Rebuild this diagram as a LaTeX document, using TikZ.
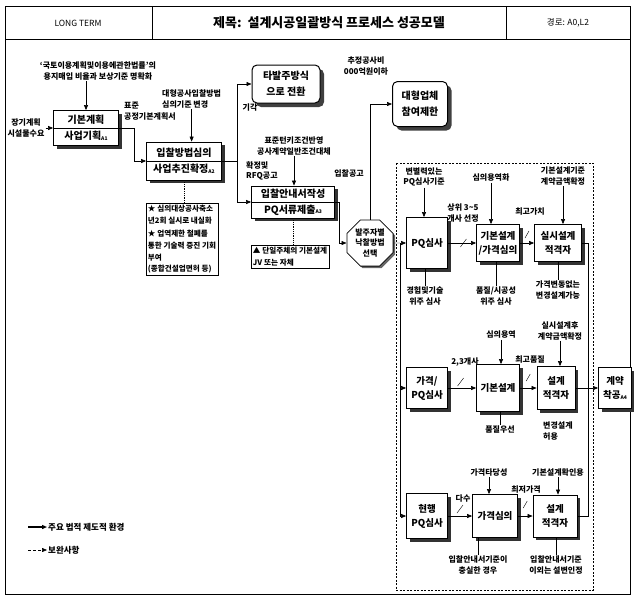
\documentclass[tikz,border=0pt]{standalone}
\usepackage{fontspec}
\setmainfont{Noto Sans CJK KR}
\usetikzlibrary{arrows.meta,positioning,calc,shapes.geometric,shadows}
\newcommand{\acode}[1]{\raisebox{-0.5pt}{\fontsize{5}{5}\selectfont #1}}
\newcommand{\lbsz}{\bfseries\fontsize{8}{10.5}\selectfont}
\newcommand{\bxsz}{\bfseries\fontsize{10}{16}\selectfont}
\newcommand{\rwsz}{\bfseries\fontsize{9.5}{14}\selectfont}

\begin{document}
\begin{tikzpicture}[x=1pt,y=-1pt,
  arr/.style={-{Triangle[length=5pt,width=4pt]},semithick},
  lab/.style={font=\lbsz,align=center,inner sep=1pt},
  bx/.style={draw,thick,fill=white,align=center,font=\bxsz,inner sep=1pt,
    drop shadow={shadow xshift=3pt,shadow yshift=-3pt,fill=black!80,opacity=1}},
  rwbx/.style={bx,font=\rwsz,inner sep=0.5pt},
  rbx/.style={draw,line width=1pt,fill=white,rounded corners=5pt,align=center,font=\bxsz,inner sep=1pt,
    drop shadow={shadow xshift=4pt,shadow yshift=-4pt,fill=black!75,opacity=1}},
  memo/.style={draw,semithick,align=left,font=\bfseries\fontsize{7.6}{11.6}\selectfont,inner sep=2pt},
  slash/.style={thin}]
\useasboundingbox (0,0) rectangle (634,600);

% header
\draw[thick] (5,6) rectangle (630,39);
\draw[thick] (152,6) -- (152,39) (506,6) -- (506,39);
\node[font=\fontsize{8.5}{10}\selectfont] (hd1) at (78,23) {LONG TERM};
\node[font=\bfseries\fontsize{13}{15}\selectfont] (hd2) at (329,23) {제목:\ \ 설계시공일괄방식 프로세스 성공모델};
\node[font=\fontsize{8.5}{10}\selectfont] (hd3) at (568,23) {경로: A0,L2};
\draw[thick] (5,39) rectangle (630,594);

% planning stage
\node[lab] (law) at (98,71) {‘국토이용계획및이용에관한법률’의\\용지매입 비율과 보상기준 명확화};
\node[bx,minimum width=65,minimum height=35] (a1) at (86,128) {기본계획\\사업기획\acode{A1}};
\draw[thick] (a1.west) -- (a1.east);
\node[lab] (need) at (26,128) {장기계획\\시설물수요};
\node[lab,anchor=west,align=left] (std) at (123,111) {표준\\공정기본계획서};
\node[lab,anchor=west,align=left] (rev) at (161,99) {대형공사입찰방법\\심의기준 변경};
\node[bx,minimum width=75,minimum height=38] (a2) at (184,161) {입찰방법심의\\사업추진확정\acode{A2}};
\draw[thick] (a2.west) -- (a2.east);
\node[rbx,minimum width=68,minimum height=38] (turn) at (286,84) {타발주방식\\으로 전환};
\node[lab] (rej) at (250,108) {기각};
\node[lab] (tky) at (294,146) {표준턴키조건반영\\공사계약일반조건대체};
\node[lab,anchor=west,align=left] (rfq) at (245,171) {확정및\\RFQ공고};
\node[bx,minimum width=83,minimum height=32] (a3) at (293,202) {입찰안내서작성\\PQ서류제출\acode{A3}};
\draw[thick] (a3.west) -- (a3.east);
\node[lab] (est) at (366,66) {추정공사비\\000억원이하};
\node[rbx,minimum width=55,minimum height=45] (big) at (420,104) {대형업체\\참여제한};
\node[lab] (bid) at (349,173) {입찰공고};
\node[draw,thick,fill=white,regular polygon,regular polygon sides=8,minimum size=50,inner sep=0pt,
  align=center,font=\bfseries\fontsize{8}{10.5}\selectfont,
  drop shadow={shadow xshift=2pt,shadow yshift=-2pt,fill=black!60,opacity=1}] (oct) at (370,243) {발주자별\\낙찰방법\\선택};

\node[memo,anchor=north] (memo1) at (182,203) {★ 심의대상공사축소\\년2회 실시로 내실화\\[2pt]★ 업역제한 철폐를\\통한 기술력 증진 기회\\부여\\(종합건설업면허 등)};
\node[memo,anchor=north] (memo2) at (290,245) {▲ 단일주체의 기본설계\\JV 또는 자체};

\coordinate (j1) at (237,161);
\draw[arr] (law.south -| a1.north) -- (a1.north);
\draw[arr] (need) -- (need -| a1.west);
\draw[arr] (a1.east) -- ++(15,0) |- (a2.west);
\draw[arr] (rev.south) -- (rev.south |- a2.north);
\draw (a2.east) -- (j1);
\draw[arr] (j1) |- (turn.west);
\draw[arr] (j1) |- (a3.west);
\draw[arr] (tky.south) -- (tky.south |- a3.north);
\draw[arr] (a3.east) -- ++(4,0) |- (oct.west);
\draw[arr] (oct.north) |- (big.west);
\draw[densely dotted,thick] (a2.south) -- (a2.south |- memo1.north);
\draw[densely dotted,thick] (a3.south) -- (a3.south |- memo2.north);

% delivery models
\draw[thick,dash pattern=on 2pt off 1.5pt] (396,163) rectangle (593,590);

% row 1
\node[rwbx,minimum width=41,minimum height=51] (pq1) at (427,243) {PQ심사};
\node[rwbx,minimum width=43,minimum height=37] (bd1) at (498,243) {기본설계\\/가격심의};
\node[rwbx,minimum width=47,minimum height=37] (ds1) at (558,243) {실시설계\\적격자};
\node[lab] (c1a) at (424,177) {변별력있는\\PQ심사기준};
\node[lab] (c1b) at (425,296) {경험및기술\\위주 심사};
\node[lab] (n1) at (463,213) {상위 3\textasciitilde5\\개사 선정};
\node[lab] (c2a) at (491,178) {심의용역화};
\node[lab] (c2b) at (496,296) {품질/시공성\\위주 심사};
\node[lab] (n2) at (530,212) {최고가치};
\node[lab] (c3a) at (563,176) {기본설계기준\\계약금액확정};
\node[lab] (c3b) at (558,290) {가격변동없는\\변경설계가능};

% row 2
\node[rwbx,minimum width=41,minimum height=41] (pq2) at (427,388) {가격/\\PQ심사};
\node[rwbx,minimum width=43,minimum height=47] (bd2) at (498,388) {기본설계};
\node[rwbx,minimum width=38,minimum height=43] (ds2) at (556,388) {설계\\적격자};
\node[rwbx,minimum width=33,minimum height=41] (ctr) at (615,388) {계약\\착공\acode{A4}};
\node[lab] (n3) at (465,362) {2,3개사};
\node[lab] (c4a) at (501,335) {심의용역};
\node[lab] (c4b) at (500,430) {품질우선};
\node[lab] (n4) at (530,360) {최고품질};
\node[lab] (c5a) at (560,331) {실시설계후\\계약금액확정};
\node[lab,anchor=north west,align=left] (c5b) at (542,421) {변경설계\\허용};

% row 3
\node[rwbx,minimum width=41,minimum height=45] (pq3) at (427,516) {현행\\PQ심사};
\node[rwbx,minimum width=45,minimum height=43] (pr3) at (495,516) {가격심의};
\node[rwbx,minimum width=44,minimum height=42] (ds3) at (555,516) {설계\\적격자};
\node[lab] (n5) at (463,498) {다수};
\node[lab] (c6a) at (489,472) {가격타당성};
\node[lab] (c6b) at (478,565) {입찰안내서기준이\\충실한 경우};
\node[lab] (n6) at (526,489) {최저가격};
\node[lab] (c7a) at (558,472) {기본설계확인용};
\node[lab] (c7b) at (556,565) {입찰안내서기준\\이외는 설변인정};

\coordinate (j2) at (400,243);
\coordinate (jr) at (588,388);
\draw (oct.east) -- (j2);
\draw[arr] (j2) -- (pq1.west);
\draw[arr] (j2) |- (pq2.west);
\draw[arr] (j2) |- (pq3.west);
\draw[arr] (pq1) -- (bd1);
\draw[arr] (bd1) -- (ds1);
\draw[arr] (pq2) -- (bd2);
\draw[arr] (bd2) -- (ds2);
\draw[arr] (pq3) -- (pr3);
\draw[arr] (pr3) -- (ds3);
\draw (ds1.east) -| (jr);
\draw (ds3.east) -| (jr);
\draw[arr] (ds2) -- (ctr);
\draw[arr] (c1a.south) -- (c1a.south |- pq1.north);
\draw[arr] (c2a.south) -- (c2a.south |- bd1.north);
\draw[arr] (c3a.south) -- (c3a.south |- ds1.north);
\draw[arr] (c4a.south) -- (c4a.south |- bd2.north);
\draw[arr] (c5a.south) -- (c5a.south |- ds2.north);
\draw[arr] (c6a.south) -- (c6a.south |- pr3.north);
\draw[arr] (c7a.south) -- (c7a.south |- ds3.north);
\draw (c1b.north |- pq1.south) -- (c1b.north);
\draw (c2b.north |- bd1.south) -- (c2b.north);
\draw (c3b.north |- ds1.south) -- (c3b.north);
\draw (c4b.north |- bd2.south) -- (c4b.north);
\draw ($(c5b.north west)+(13,0)$ |- ds2.south) -- ($(c5b.north west)+(13,0)$);
\draw (c6b.north |- pr3.south) -- (c6b.north);
\draw (c7b.north |- ds3.south) -- (c7b.north);
% tick marks on the selection arrows
\draw[slash] ($(pq1.east)!0.55!(bd1.west)+(-3,4)$) -- ++(6,-8);
\draw[slash] ($(bd1.east)!0.5!(ds1.west)+(-2,-5)$) -- ++(4,-7);
\draw[slash] ($(pq2.east)!0.45!(bd2.west)+(-3,-2)$) -- ++(6,-8);
\draw[slash] ($(bd2.east)!0.5!(ds2.west)+(-2,-7)$) -- ++(4,-7);
\draw[slash] ($(pq3.east)!0.5!(pr3.west)+(-3,-3)$) -- ++(6,-8);
\draw[slash] ($(pr3.east)!0.5!(ds3.west)+(-2,-8)$) -- ++(4,-7);

% legend
\node[lab,anchor=west,font=\bfseries\fontsize{8.5}{10}\selectfont] (lg1) at (47,527) {주요 법적 제도적 환경};
\node[lab,anchor=west,font=\bfseries\fontsize{8.5}{10}\selectfont] (lg2) at (47,550) {보완사항};
\draw[arr,very thick] ($(lg1.west)+(-19,0)$) -- (lg1.west);
\draw[arr,densely dashed] ($(lg2.west)+(-19,0)$) -- (lg2.west);
\end{tikzpicture}
\end{document}
